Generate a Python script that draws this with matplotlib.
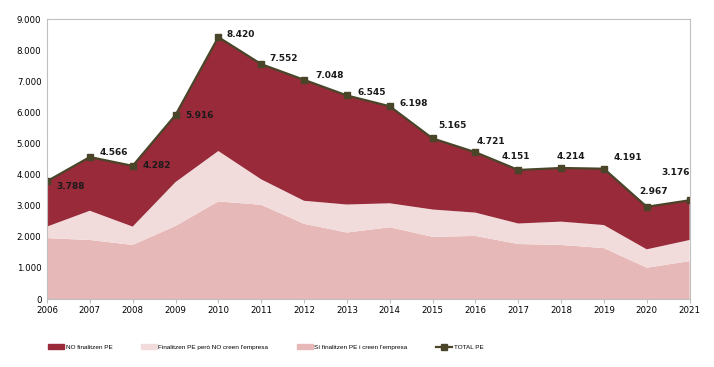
import matplotlib.pyplot as plt
from matplotlib.ticker import FuncFormatter

years = list(range(2006, 2022))
# Sí finalitzen PE i creen l'empresa
si_creen = [1960, 1900, 1740, 2350, 3140, 3030, 2420, 2140, 2310, 2000, 2030, 1770, 1740, 1640, 1010, 1220]
# Finalitzen PE però NO creen l'empresa
no_creen = [370, 940, 590, 1410, 1620, 820, 740, 900, 770, 880, 750, 660, 750, 740, 590, 680]
# TOTAL PE
total = [3788, 4566, 4282, 5916, 8420, 7552, 7048, 6545, 6198, 5165, 4721, 4151, 4214, 4191, 2967, 3176]
# NO finalitzen PE = total - resta
no_final = [t - a - b for t, a, b in zip(total, si_creen, no_creen)]

c_dark = '#982a3a'
c_pale = '#f2dcdb'
c_pink = '#e6b8b7'
c_line = '#4a4529'
c_grid = '#bfbfbf'

# desplaçament de les etiquetes (en punts)
offsets = [(7, -4, 'left'), (7, 3, 'left'), (7, 0, 'left'), (7, 0, 'left'),
           (6, 2, 'left'), (6, 4, 'left'), (8, 3, 'left'), (8, 2, 'left'),
           (7, 2, 'left'), (4, 9, 'left'), (1, 8, 'left'), (-2, 10, 'center'),
           (-3, 8, 'left'), (7, 8, 'left'), (5, 11, 'center'), (0, 20, 'right')]

plt.rcParams['font.family'] = ['DejaVu Sans']

fig = plt.figure(figsize=(7.14, 3.67), dpi=100)
ax = fig.add_axes([0.0658, 0.185, 0.9, 0.763])

ax.stackplot(years, si_creen, no_creen, no_final,
             colors=[c_pink, c_pale, c_dark], linewidth=0)
line, = ax.plot(years, total, color=c_line, lw=1.6, marker='s', ms=5,
                label='TOTAL PE')

for x, y, (dx, dy, ha) in zip(years, total, offsets):
    ax.annotate(f'{y:,}'.replace(',', '.'), (x, y), xytext=(dx, dy),
                textcoords='offset points', ha=ha, va='center',
                fontsize=6.5, fontweight='bold', color='#1a1a1a')

ax.set_xlim(2006, 2021)
ax.set_ylim(0, 9000)
ax.set_xticks(years)
ax.set_yticks(range(0, 9001, 1000))
ax.yaxis.set_major_formatter(FuncFormatter(lambda v, p: f'{int(v):,}'.replace(',', '.')))
ax.tick_params(axis='x', length=3, color=c_grid, labelsize=6.2, pad=2)
ax.tick_params(axis='y', length=0, labelsize=6.2, pad=4)
for s in ax.spines.values():
    s.set_color(c_grid)
    s.set_linewidth(0.8)

handles = [plt.Rectangle((0, 0), 1, 1, color=c_dark),
           plt.Rectangle((0, 0), 1, 1, color=c_pale),
           plt.Rectangle((0, 0), 1, 1, color=c_pink),
           line]
labels = ['NO finalitzen PE', 'Finalitzen PE però NO creen l\'empresa',
          'Sí finalitzen PE i creen l\'empresa', 'TOTAL PE']
fig.legend(handles, labels, loc='center', bbox_to_anchor=(0.372, 0.054), ncol=4,
           frameon=False, prop={'family': 'Liberation Sans', 'size': 4.6},
           handlelength=2.5, handleheight=0.8, columnspacing=4.4, handletextpad=0.3)

fig.savefig('out.png', dpi=100)
